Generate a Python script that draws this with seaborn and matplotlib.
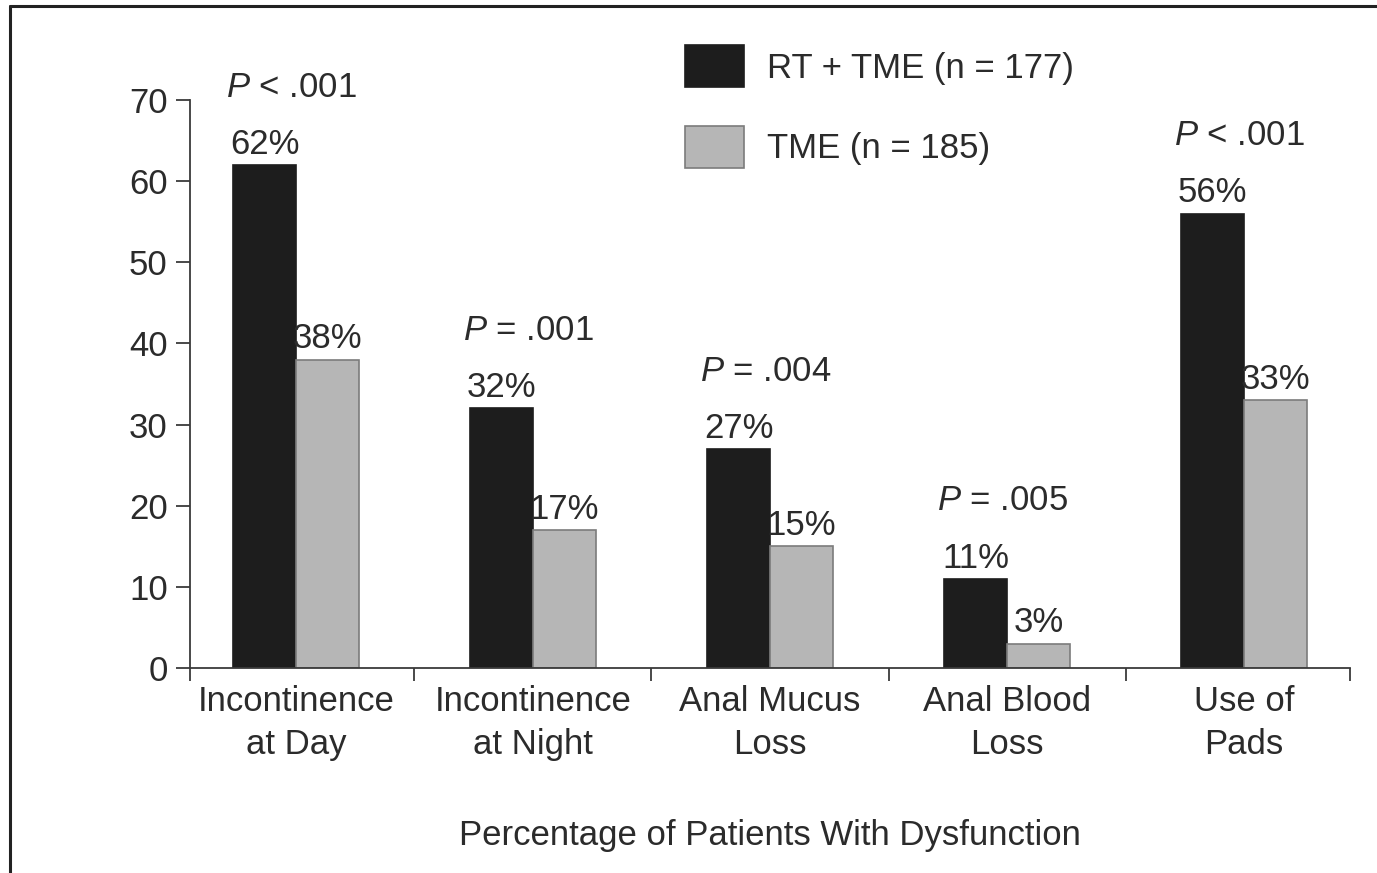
import matplotlib
matplotlib.use("Agg")
import matplotlib.pyplot as plt
import seaborn as sns
import pandas as pd
from matplotlib.lines import Line2D
from matplotlib.patches import Rectangle

# ---- data ----
categories = ["Incontinence\nat Day", "Incontinence\nat Night", "Anal Mucus\nLoss",
              "Anal Blood\nLoss", "Use of\nPads"]
rt_tme = [62, 32, 27, 11, 56]
tme_only = [38, 17, 15, 3, 33]
series_names = ["RT + TME (n = 177)", "TME (n = 185)"]
p_labels = [r"$\mathit{P}$ < .001", r"$\mathit{P}$ = .001", r"$\mathit{P}$ = .004",
            r"$\mathit{P}$ = .005", r"$\mathit{P}$ < .001"]
y_ticks = [0, 10, 20, 30, 40, 50, 60, 70]
x_label = "Percentage of Patients With Dysfunction"

df = pd.DataFrame({
    "category": categories * 2,
    "group": [series_names[0]] * len(categories) + [series_names[1]] * len(categories),
    "value": rt_tme + tme_only,
})

# ---- style ----
sns.set_style("white")
plt.rcParams["font.family"] = ["Liberation Sans", "DejaVu Sans"]
plt.rcParams["mathtext.fontset"] = "custom"
plt.rcParams["mathtext.rm"] = "Liberation Sans"
plt.rcParams["mathtext.it"] = "Liberation Sans:italic"

FS = 25
TXT = "#2b2b2b"
AX = "#3a3a3a"
BLACK = "#1d1d1d"
GREY = "#b6b6b6"
GREY_EDGE = "#7c7c7c"

fig = plt.figure(figsize=(13.77, 8.73), dpi=100)
ax = fig.add_axes([190 / 1377, 205 / 873, 1160 / 1377, 568 / 873])

sns.barplot(data=df, x="category", y="value", hue="group", order=categories,
            hue_order=series_names, palette=[BLACK, GREY], width=0.53,
            saturation=1, legend=False, ax=ax)

for cont, ec in zip(ax.containers, [BLACK, GREY_EDGE]):
    for p in cont:
        p.set_edgecolor(ec)
        p.set_linewidth(1.2)
    ax.bar_label(cont, fmt="{:g}%", padding=3, fontsize=FS, color=TXT)

# P-value annotations above each group
for i, lab in enumerate(p_labels):
    top = max(rt_tme[i], tme_only[i])
    ax.text(i - 0.02, top + 9.6, lab, ha="center", va="center", fontsize=FS,
            color=TXT, clip_on=False)

# axes
xl = (-0.447, 4.447)
ax.set_xlim(*xl)
ax.set_ylim(0, 70)
ax.set_yticks(y_ticks)
ax.set_yticklabels([str(t) for t in y_ticks])
ax.set_xticks([xl[0], 0.5, 1.5, 2.5, 3.5, xl[1]])
ax.set_xticklabels([])
ax.set_xticks(range(len(categories)), minor=True)
ax.set_xticklabels(categories, minor=True, linespacing=1.4)
ax.tick_params(axis="x", which="major", direction="out", length=9, width=1.3,
               color=AX, bottom=True)
ax.tick_params(axis="x", which="minor", length=0, pad=12, labelsize=FS,
               labelcolor=TXT, bottom=True)
ax.tick_params(axis="y", direction="out", length=10, width=1.3, color=AX, pad=6,
               labelsize=FS, labelcolor=TXT, left=True)
ax.set_xlabel(x_label, fontsize=FS, color=TXT, labelpad=42)
ax.set_ylabel("")

sns.despine(ax=ax)
for s in ["left", "bottom"]:
    ax.spines[s].set_color(AX)
    ax.spines[s].set_linewidth(1.3)

# legend
handles = [Rectangle((0, 0), 1, 1, facecolor=BLACK, edgecolor=BLACK, linewidth=1.2),
           Rectangle((0, 0), 1, 1, facecolor=GREY, edgecolor=GREY_EDGE, linewidth=1.2)]
leg = fig.legend(handles, series_names, loc="upper left",
                 bbox_to_anchor=(685 / 1377, 1 - 45 / 873), frameon=False,
                 fontsize=FS, handlelength=1.7, handleheight=1.5, labelspacing=1.1,
                 handletextpad=0.65, borderpad=0, borderaxespad=0)
for t in leg.get_texts():
    t.set_color(TXT)

# figure border (top and left)
ytop = 1 - 6 / 873
xleft = 10 / 1377
fig.add_artist(Line2D([xleft, 1], [ytop, ytop], transform=fig.transFigure,
                      color="#222222", linewidth=2.2))
fig.add_artist(Line2D([xleft, xleft], [ytop, 0], transform=fig.transFigure,
                      color="#222222", linewidth=2.2))

fig.savefig("out.png", dpi=100)
